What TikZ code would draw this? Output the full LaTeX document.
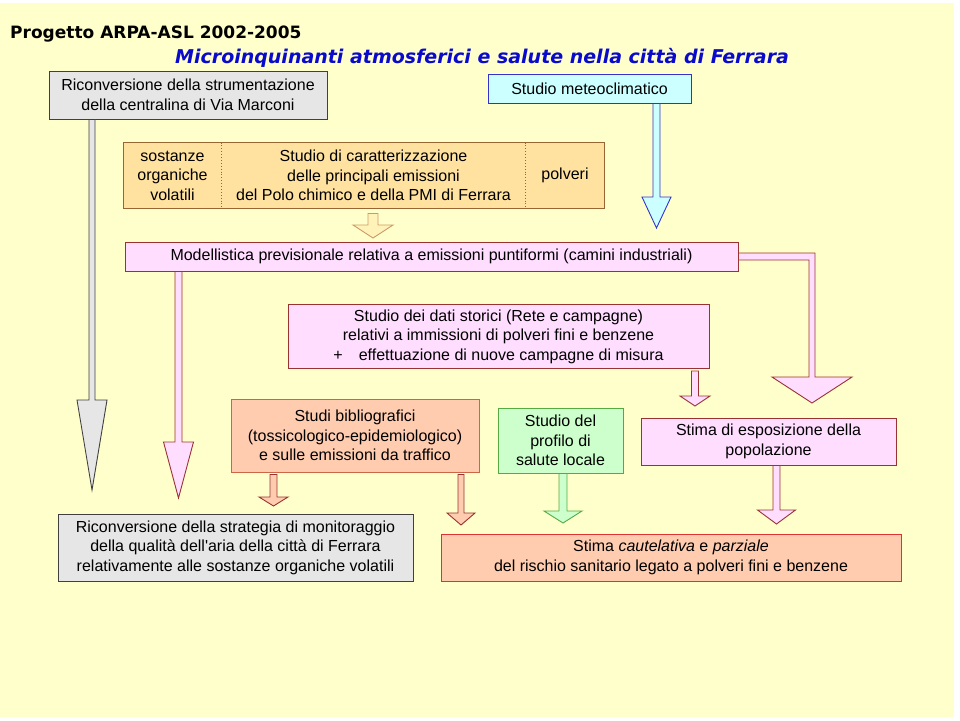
\documentclass[tikz,border=0pt]{standalone}
\usepackage{fontspec}
\setmainfont{Liberation Sans}
\newfontfamily\titlefont{DejaVu Sans}
\usetikzlibrary{calc}

\definecolor{sfondo}{HTML}{FFFFCC}
\definecolor{grigiof}{HTML}{E6E6E6}
\definecolor{grigiod}{HTML}{404040}
\definecolor{azzurrof}{HTML}{CCFFFF}
\definecolor{bluod}{HTML}{3333CC}
\definecolor{ocraf}{HTML}{FFE2A0}
\definecolor{ocrad}{HTML}{996633}
\definecolor{ocrafr}{HTML}{CC9966}
\definecolor{rosaf}{HTML}{FFDDFF}
\definecolor{rosad}{HTML}{993333}
\definecolor{salmonef}{HTML}{FFCCB0}
\definecolor{salmoned}{HTML}{CC6644}
\definecolor{rossod}{HTML}{DD3333}
\definecolor{verdef}{HTML}{CCFFCC}
\definecolor{verded}{HTML}{55AA44}
\definecolor{titoloblu}{HTML}{0A0ACC}

% freccia a blocco verticale: stile, partenza, punta, mezzo fusto, mezza testa, lunghezza testa
\newcommand{\blockarrow}[6]{%
  \draw[#1] let \p1=(#2), \p2=(#3) in
    (\x2-#4,\y1) -- (\x2-#4,\y2+#6) -- (\x2-#5,\y2+#6) -- (\x2,\y2)
    -- (\x2+#5,\y2+#6) -- (\x2+#4,\y2+#6) -- (\x2+#4,\y1) -- cycle;}

\begin{document}
\begin{tikzpicture}[x=1pt,y=-1pt,
    box/.style={draw,align=center,inner sep=0pt,line width=0.9pt,font=\fontsize{16}{19.5}\selectfont},
    grigio/.style={box,fill=grigiof,draw=grigiod},
    azzurro/.style={box,fill=azzurrof,draw=bluod},
    ocra/.style={box,fill=ocraf,draw=none},
    rosa/.style={box,fill=rosaf,draw=rosad},
    salmone/.style={box,fill=salmonef,draw=salmoned},
    verde/.style={box,fill=verdef,draw=verded},
    rischiobox/.style={box,fill=salmonef,draw=rossod},
    frgrigia/.style={fill=grigiof,draw=grigiod,line width=0.9pt},
    frblu/.style={fill=azzurrof,draw=bluod,line width=0.9pt},
    frocra/.style={fill=sfondo!60!ocraf,draw=ocrafr,line width=0.9pt},
    frrosa/.style={fill=rosaf,draw=rosad,line width=0.9pt},
    frsalmone/.style={fill=salmonef,draw=rosad,line width=0.9pt},
    frverde/.style={fill=verdef,draw=verded,line width=0.9pt}]
    \useasboundingbox (0,0) rectangle (960,720);
    \fill[sfondo] (0,3) rectangle (954,717);

    \node[anchor=base west,inner sep=0pt] (titolo) at (10,38) {\titlefont\bfseries\fontsize{17}{17}\selectfont Progetto ARPA-ASL 2002-2005};
    \node[anchor=base west,inner sep=0pt,text=titoloblu] (sottotitolo) at (175,63) {\titlefont\bfseries\itshape\fontsize{19}{19}\selectfont Microinquinanti atmosferici e salute nella città di Ferrara};

    \node[grigio,minimum width=278,minimum height=48] (ricon) at (188,95) {Riconversione della strumentazione\\della centralina di Via Marconi};
    \node[azzurro,minimum width=203,minimum height=29] (meteo) at (589.5,88.5) {Studio meteoclimatico};

    \node[ocra,minimum width=97,minimum height=65] (sov) at (172.5,175.5) {sostanze\\organiche\\volatili};
    \node[ocra,minimum width=305,minimum height=65] (caratt) at (373.5,175.5) {Studio di caratterizzazione\\delle principali emissioni\\del Polo chimico e della PMI di Ferrara};
    \node[ocra,minimum width=78,minimum height=65] (polveri) at (565,175.5) {polveri};
    \draw[ocrad,line width=0.9pt] (sov.north west) rectangle (polveri.south east);
    \draw[ocrad,dotted,line width=0.9pt] (sov.north east) -- (sov.south east);
    \draw[ocrad,dotted,line width=0.9pt] (polveri.north west) -- (polveri.south west);

    \node[rosa,minimum width=613,minimum height=29] (model) at (431.5,256.5) {Modellistica previsionale relativa a emissioni puntiformi (camini industriali)};
    \node[rosa,minimum width=421,minimum height=64] (storici) at (498.5,336.5) {Studio dei dati storici (Rete e campagne)\\relativi a immissioni di polveri fini e benzene\\+\quad effettuazione di nuove campagne di misura};

    \node[salmone,minimum width=248,minimum height=73] (biblio) at (355,435.5) {Studi bibliografici\\(tossicologico-epidemiologico)\\e sulle emissioni da traffico};
    \node[verde,minimum width=125,minimum height=65] (profilo) at (560.5,440.5) {Studio del\\profilo di\\salute locale};
    \node[rosa,minimum width=255,minimum height=47] (espos) at (768.5,441.5) {Stima di esposizione della\\popolazione};

    \node[grigio,minimum width=355,minimum height=67] (strategia) at (235.5,547.5) {Riconversione della strategia di monitoraggio\\della qualità dell\textquotesingle aria della città di Ferrara\\relativamente alle sostanze organiche volatili};
    \node[rischiobox,minimum width=460,minimum height=47] (rischio) at (671,557.5) {Stima \textit{cautelativa} e \textit{parziale}\\del rischio sanitario legato a polveri fini e benzene};

    \coordinate (tipricon) at (92,490);
    \coordinate (tipmeteo) at (656.5,228);
    \coordinate (tipcaratt) at (373,238);
    \coordinate (tipmodel) at (178.5,498);
    \coordinate (tipstorici) at (695,406);
    \coordinate (tipbiblioa) at (273.5,506);
    \coordinate (tipbibliob) at (461,525);
    \coordinate (tipprofilo) at (563,523);
    \coordinate (tipespos) at (776.5,524);
    \coordinate (tipbent) at (812,403);

    \blockarrow{frgrigia}{ricon.south}{tipricon}{3pt}{15pt}{90pt}
    \blockarrow{frblu}{meteo.south}{tipmeteo}{3.5pt}{14.5pt}{31pt}
    \blockarrow{frocra}{$(caratt.south)+(0,5)$}{tipcaratt}{5pt}{20pt}{13pt}
    \blockarrow{frrosa}{model.south}{tipmodel}{3.5pt}{15pt}{56pt}
    \blockarrow{frrosa}{$(storici.south)+(0,2)$}{tipstorici}{3.5pt}{15pt}{10pt}
    \blockarrow{frsalmone}{$(biblio.south)+(0,2)$}{tipbiblioa}{3.5pt}{14.5pt}{9pt}
    \blockarrow{frsalmone}{$(biblio.south)+(0,2)$}{tipbibliob}{3pt}{14pt}{12pt}
    \blockarrow{frverde}{profilo.south}{tipprofilo}{4pt}{19pt}{12pt}
    \blockarrow{frrosa}{espos.south}{tipespos}{3.5pt}{19pt}{14pt}

    \draw[frrosa] ($(model.east)+(0,-3.5)$) -- ($(model.east -| tipbent)+(3,-3.5)$)
        -- ($(tipbent)+(3,-26)$) -- ($(tipbent)+(40,-26)$) -- (tipbent)
        -- ($(tipbent)+(-40,-26)$) -- ($(tipbent)+(-3,-26)$)
        -- ($(model.east -| tipbent)+(-3,3.5)$) -- ($(model.east)+(0,3.5)$) -- cycle;
\end{tikzpicture}
\end{document}
